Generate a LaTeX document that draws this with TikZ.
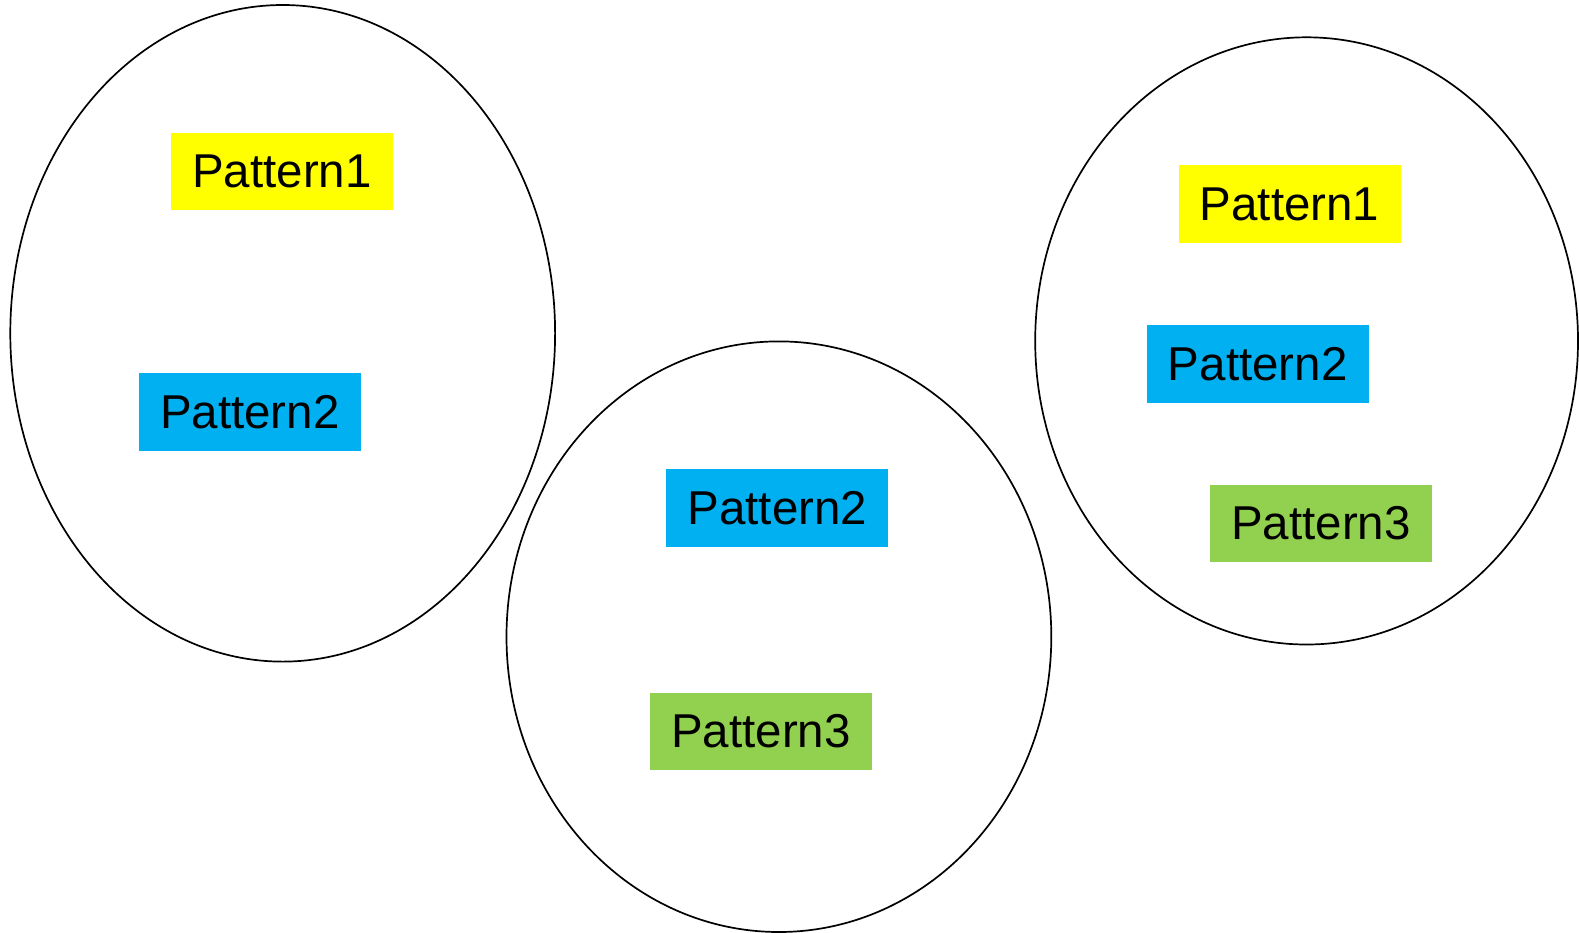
\documentclass[tikz,border=0pt]{standalone}
\usepackage{fontspec}
\setmainfont{Liberation Sans}
\usetikzlibrary{shapes.geometric}
\definecolor{pyellow}{HTML}{FFFF00}
\definecolor{pblue}{HTML}{00B0F0}
\definecolor{pgreen}{HTML}{92D050}
\begin{document}
\begin{tikzpicture}[x=1pt,y=-1pt,
  group/.style={draw=black,line width=1.7pt,ellipse,inner sep=0pt},
  pat/.style={inner sep=0pt,minimum width=222pt,minimum height=77.5pt,
    font=\fontsize{47.5}{52}\selectfont,text=black},
  p1/.style={pat,fill=pyellow},
  p2/.style={pat,fill=pblue},
  p3/.style={pat,fill=pgreen}]
\useasboundingbox[fill=white] (0,0) rectangle (1579,932);
% groups
\node[group,minimum width=544.8pt,minimum height=656.6pt] (gl) at (282.7,333.3) {};
\node[group,minimum width=544.8pt,minimum height=590.6pt] (gm) at (778.9,636.7) {};
\node[group,minimum width=542.8pt,minimum height=607.2pt] (gr) at (1306.6,340.9) {};
% left group
\node[p1] (l1) at (282,171.7) {Pattern1\hspace{3pt}};
\node[p2] (l2) at (249.8,412) {Pattern2\hspace{3pt}};
% middle group
\node[p2] (m2) at (777.4,508) {Pattern2\hspace{3pt}};
\node[p3] (m3) at (761,731.5) {Pattern3\hspace{3pt}};
% right group
\node[p1] (r1) at (1289.6,204) {Pattern1\hspace{3pt}};
\node[p2] (r2) at (1257.7,364) {Pattern2\hspace{3pt}};
\node[p3] (r3) at (1321,523.6) {Pattern3\hspace{3pt}};
\end{tikzpicture}
\end{document}
